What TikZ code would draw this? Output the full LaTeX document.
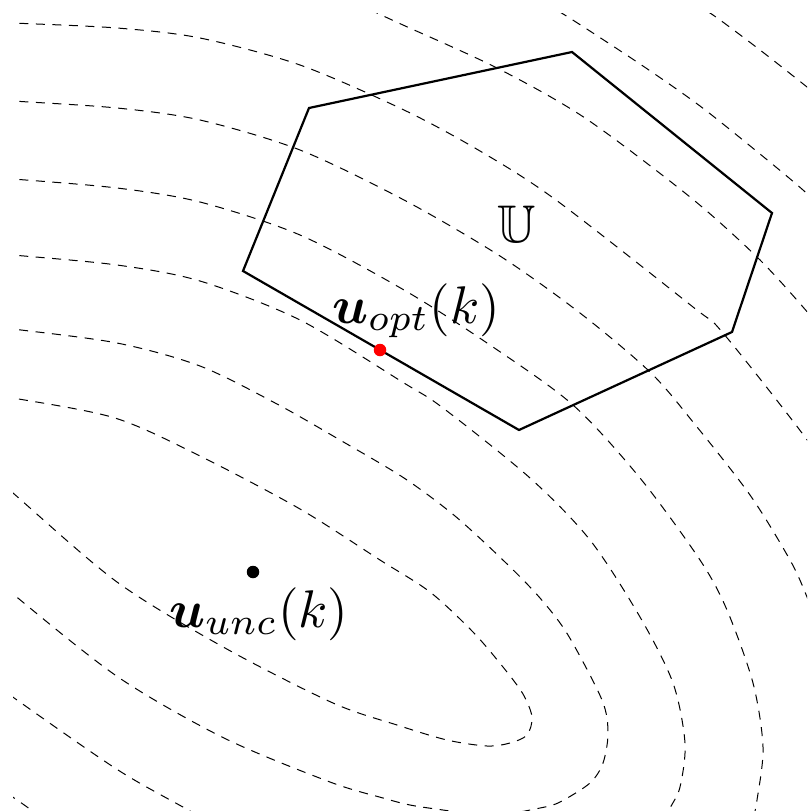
\documentclass[tikz,border=0pt]{standalone}
\usepackage{amsmath,amssymb}
\begin{document}
\begin{tikzpicture}[x=1pt,y=-1pt,
  levelset/.style={line width=1pt, dash pattern=on 9pt off 7.5pt},
  boundary/.style={line width=2.2pt, line join=miter},
  dotmark/.style={circle, inner sep=0pt, minimum size=12.5pt},
  lbl/.style={inner sep=0pt, scale=5.3}]
\useasboundingbox (0,0) rectangle (807,811);
\begin{scope}
\clip (13,13) rectangle (807,811);
% k=1
\draw[levelset] plot[smooth] coordinates {(-30,392) (13,398) (115,418) (200,456) (300,509) (380,560) (430,592) (473,632) (503,667) (523,694) (532,717) (527,735) (510,743) (487,746) (447,740) (397,725) (333,703) (225,648) (117,582) (13,493) (-25,460)};
% k=2
\draw[levelset] plot[smooth] coordinates {(-30,324) (13,329) (117,343) (200,366) (277,404) (340,440) (404,478) (455,516) (505,562) (540,598) (568,635) (602,700) (608,733) (603,763) (590,783) (560,802) (540,808) (490,816) (443,810) (410,805) (383,798) (330,782) (224,738) (118,677) (13,594) (-25,560)};
% k=3
\draw[levelset] plot[smooth] coordinates {(-30,251) (13,255) (117,265) (200,281) (300,320) (404,383) (443,408) (530,478) (590,540) (640,617) (673,683) (685,743) (680,787) (670,808) (655,835)};
\draw[levelset] plot[smooth] coordinates {(-30,665) (17,700) (118,770) (190,811) (230,835)};
% k=4
\draw[levelset] plot[smooth] coordinates {(-30,176) (13,179) (117,188) (200,202) (300,235) (404,290) (490,345) (573,405) (640,478) (700,560) (727,610) (753,683) (763,747) (757,800) (750,835)};
\draw[levelset] plot[smooth] coordinates {(-20,775) (20,802) (45,820)};
% k=5
\draw[levelset] plot[smooth] coordinates {(-30,98) (13,101) (117,108) (200,120) (300,150) (404,200) (500,256) (580,313) (650,372) (693,422) (750,495) (790,560) (807,597) (825,645)};
% k=6
\draw[levelset] plot[smooth] coordinates {(-30,21) (13,23) (117,28) (200,38) (300,65) (404,110) (480,151) (556,200) (693,307) (723,333) (805,437) (840,490)};
% k=7
\draw[levelset] plot[smooth] coordinates {(340,-5) (377,13) (403,25) (497,68) (585,118) (690,197) (757,257) (803,307) (840,352)};
% k=8
\draw[levelset] plot[smooth] coordinates {(530,-5) (568,17) (640,64) (700,106) (760,154) (803,190) (840,225)};
% k=9
\draw[levelset] plot[smooth] coordinates {(680,-5) (713,15) (760,50) (807,87) (830,106)};
\end{scope}
% constraint set
\coordinate (v1) at (243,271);
\coordinate (v2) at (309,108);
\coordinate (v3) at (572,52);
\coordinate (v4) at (772,213);
\coordinate (v5) at (732,332);
\coordinate (v6) at (519,430);
\draw[boundary] (v1) -- (v2) -- (v3) -- (v4) -- (v5) -- (v6) -- cycle;
\node[dotmark, fill=red] (opt) at (380,350) {};
\node[dotmark, fill=black] (unc) at (253,572) {};
\node[lbl, anchor=base west] (optlbl) at (331,323) {$\boldsymbol{u}_{opt}(k)$};
\node[lbl, anchor=base west] (unclbl) at (168,627) {$\boldsymbol{u}_{unc}(k)$};
\node[lbl, anchor=base] (setU) at (517,242) {$\mathbb{U}$};
\end{tikzpicture}
\end{document}
